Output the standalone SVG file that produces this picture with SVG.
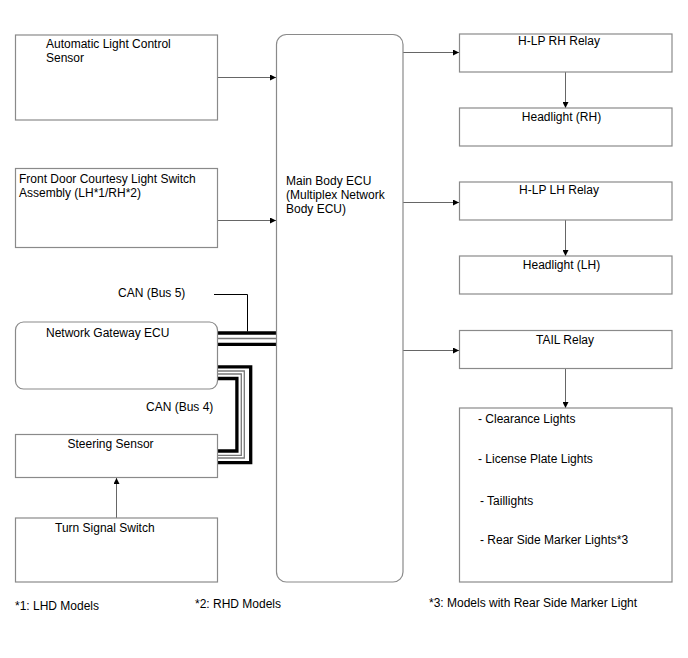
<svg xmlns="http://www.w3.org/2000/svg" width="688" height="658" viewBox="0 0 688 658">
<style>
.box{fill:#fff;stroke:#8a8a8a;stroke-width:1.2}
.t{font-family:"Liberation Sans",Arial,sans-serif;font-size:12px;fill:#000}
.m{text-anchor:middle}
.c{fill:none;stroke:#666;stroke-width:1}
.bk{fill:none;stroke:#000;stroke-width:3.3}
.gr{fill:none;stroke:#777;stroke-width:1.3}
</style>
<defs>
<marker id="ah" viewBox="0 0 10 10" refX="10" refY="5" markerWidth="9" markerHeight="6" markerUnits="userSpaceOnUse" orient="auto">
<path d="M0,0 L10,5 L0,10 z" fill="#000"/>
</marker>
</defs>
<rect width="688" height="658" fill="#fff"/>
<g id="connectors">
<line class="c" x1="217" y1="77.5" x2="276" y2="77.5" marker-end="url(#ah)"/>
<line class="c" x1="217" y1="220.5" x2="276" y2="220.5" marker-end="url(#ah)"/>
<line class="c" x1="403" y1="52.5" x2="459" y2="52.5" marker-end="url(#ah)"/>
<line class="c" x1="403" y1="202.5" x2="459" y2="202.5" marker-end="url(#ah)"/>
<line class="c" x1="403" y1="350.5" x2="459" y2="350.5" marker-end="url(#ah)"/>
<line class="c" x1="565.5" y1="72" x2="565.5" y2="108" marker-end="url(#ah)"/>
<line class="c" x1="565.5" y1="220" x2="565.5" y2="256" marker-end="url(#ah)"/>
<line class="c" x1="565.5" y1="369" x2="565.5" y2="408" marker-end="url(#ah)"/>
<line class="c" x1="116.5" y1="518" x2="116.5" y2="478" marker-end="url(#ah)"/>
<g id="can-bus5">
<line class="bk" x1="217" y1="333" x2="276" y2="333"/>
<line class="gr" x1="217" y1="338.5" x2="276" y2="338.5"/>
<line class="bk" x1="217" y1="344.3" x2="276" y2="344.3"/>
<polyline fill="none" stroke="#000" stroke-width="1" points="214,294.5 247.5,294.5 247.5,331.5"/>
</g>
<g id="can-bus4">
<path class="bk" d="M217,366.8 H250.7 V462.7 H217"/>
<path class="gr" d="M217,371 H244.3 V458 H217"/>
<path class="gr" d="M217,374 H241.3 V455.3 H217"/>
<path class="bk" d="M217,378.5 H236.9 V451 H217"/>
</g>
</g>
<g id="alcs">
<rect class="box" x="15.5" y="35" width="202" height="85"/>
<text class="t" x="46" y="48">Automatic Light Control</text>
<text class="t" x="46" y="62">Sensor</text>
</g>
<g id="front-door">
<rect class="box" x="15.5" y="168.5" width="202" height="79"/>
<text class="t" x="19" y="183">Front Door Courtesy Light Switch</text>
<text class="t" x="19" y="197">Assembly (LH*1/RH*2)</text>
</g>
<g id="main-body-ecu">
<rect class="box" x="276.5" y="34.5" width="126.5" height="547.5" rx="10"/>
<text class="t" x="286" y="185">Main Body ECU</text>
<text class="t" x="286" y="199">(Multiplex Network</text>
<text class="t" x="286" y="213">Body ECU)</text>
</g>
<g id="network-gateway">
<rect class="box" x="15.5" y="322" width="202" height="67" rx="8"/>
<text class="t" x="46" y="337">Network Gateway ECU</text>
</g>
<g id="labels">
<text class="t" x="118" y="297">CAN (Bus 5)</text>
<text class="t" x="146" y="411">CAN (Bus 4)</text>
</g>
<g id="steering-sensor">
<rect class="box" x="15.5" y="434.5" width="202" height="43"/>
<text class="t" x="67.5" y="448">Steering Sensor</text>
</g>
<g id="turn-signal">
<rect class="box" x="15.5" y="518" width="202" height="64"/>
<text class="t" x="55" y="532">Turn Signal Switch</text>
</g>
<g id="hlp-rh">
<rect class="box" x="459.5" y="34" width="212.5" height="38"/>
<text class="t m" x="559" y="45">H-LP RH Relay</text>
</g>
<g id="headlight-rh">
<rect class="box" x="459.5" y="108" width="212.5" height="38"/>
<text class="t m" x="561.5" y="121">Headlight (RH)</text>
</g>
<g id="hlp-lh">
<rect class="box" x="459.5" y="182" width="212.5" height="38"/>
<text class="t m" x="559" y="194">H-LP LH Relay</text>
</g>
<g id="headlight-lh">
<rect class="box" x="459.5" y="256" width="212.5" height="38"/>
<text class="t m" x="561.5" y="269">Headlight (LH)</text>
</g>
<g id="tail-relay">
<rect class="box" x="459.5" y="330.5" width="212.5" height="38"/>
<text class="t m" x="565" y="343.5">TAIL Relay</text>
</g>
<g id="lights">
<rect class="box" x="459.5" y="408" width="212.5" height="174"/>
<text class="t" x="478" y="422.5">- Clearance Lights</text>
<text class="t" x="478" y="463">- License Plate Lights</text>
<text class="t" x="480" y="505">- Taillights</text>
<text class="t" x="480" y="543.5">- Rear Side Marker Lights*3</text>
</g>
<g id="notes">
<text class="t" x="15" y="610">*1: LHD Models</text>
<text class="t" x="195" y="608">*2: RHD Models</text>
<text class="t" x="429" y="607">*3: Models with Rear Side Marker Light</text>
</g>
</svg>
